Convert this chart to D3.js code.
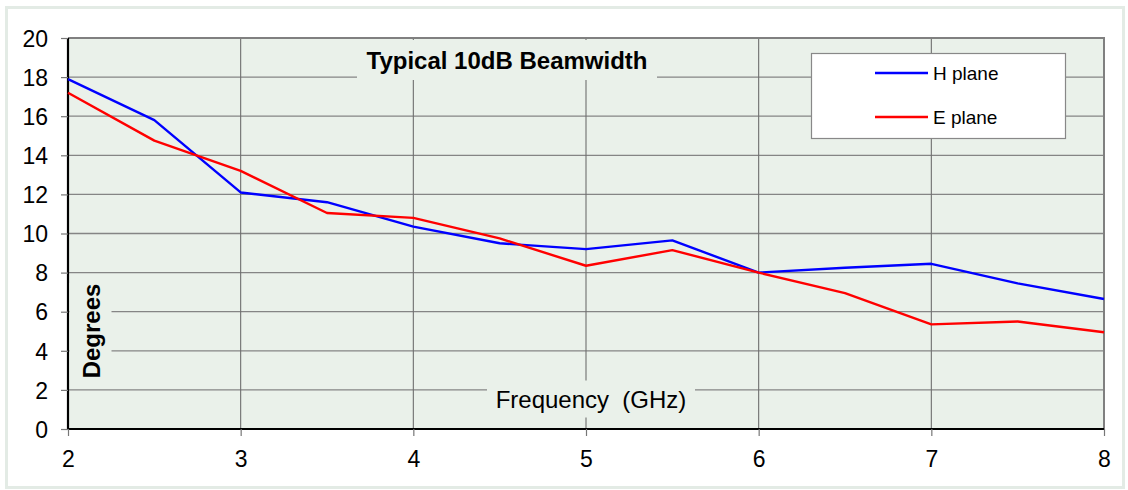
<!DOCTYPE html>
<html>
<head>
<meta charset="utf-8">
<script src="https://cdn.jsdelivr.net/npm/d3@7"></script>
<style>
  body { margin: 0; background: #fff; }
  svg text { font-family: "Liberation Sans", Arial, sans-serif; fill: #000; white-space: pre; }
</style>
</head>
<body>
<div id="chart"></div>
<script>
// frequency in GHz
const freqs = [2, 2.5, 3, 3.5, 4, 4.5, 5, 5.5, 6, 6.5, 7, 7.5, 8];
const hPlane = [17.9, 15.8, 12.1, 11.6, 10.35, 9.5, 9.2, 9.65, 8.0, 8.25, 8.45, 7.45, 6.65];
const ePlane = [17.2, 14.75, 13.2, 11.05, 10.8, 9.75, 8.35, 9.15, 8.0, 6.95, 5.35, 5.5, 4.95];
const xTicks = [2, 3, 4, 5, 6, 7, 8];
const yTicks = [0, 2, 4, 6, 8, 10, 12, 14, 16, 18, 20];
const seriesNames = ["H plane", "E plane"];
const seriesColors = ["#0000ff", "#ff0000"];

const width = 1128, height = 490;
const margin = { top: 38, right: 24, bottom: 61, left: 68 };
const plotBg = "#eaf1ea";

const svg = d3.select("#chart").append("svg")
  .attr("width", width)
  .attr("height", height);

// outer frame
svg.append("rect")
  .attr("x", 6.5).attr("y", 7.5)
  .attr("width", 1117).attr("height", 480)
  .attr("fill", "#fff")
  .attr("stroke", "#e3ebe5")
  .attr("stroke-width", 3);

const x = d3.scaleLinear().domain([2, 8]).range([margin.left, width - margin.right]);
const y = d3.scaleLinear().domain([0, 20]).range([height - margin.bottom, margin.top]);

const g = svg.append("g");

g.append("rect")
  .attr("x", x(2)).attr("y", y(20))
  .attr("width", x(8) - x(2)).attr("height", y(0) - y(20))
  .attr("fill", plotBg);

// grid
g.append("g")
  .attr("stroke", "#858585")
  .attr("stroke-width", 1.3)
  .selectAll("line")
  .data(yTicks.slice(1, -1))
  .join("line")
    .attr("x1", x(2)).attr("x2", x(8))
    .attr("y1", d => y(d)).attr("y2", d => y(d));

g.append("g")
  .attr("stroke", "#6e6e6e")
  .attr("stroke-width", 1.1)
  .selectAll("line")
  .data(xTicks.slice(1, -1))
  .join("line")
    .attr("x1", d => x(d)).attr("x2", d => x(d))
    .attr("y1", y(0)).attr("y2", y(20));

// top and right border
g.append("path")
  .attr("d", `M${x(2)},${y(20)}H${x(8)}V${y(0)}`)
  .attr("fill", "none")
  .attr("stroke", "#808080")
  .attr("stroke-width", 2);

// axes
const xAxis = g.append("g")
  .attr("transform", `translate(0,${y(0)})`)
  .call(d3.axisBottom(x).tickValues(xTicks).tickFormat(d3.format("d")).tickSize(7).tickPadding(14));
const yAxis = g.append("g")
  .attr("transform", `translate(${x(2)},0)`)
  .call(d3.axisLeft(y).tickValues(yTicks).tickSize(7).tickPadding(13));

[xAxis, yAxis].forEach(a => {
  a.select(".domain").attr("stroke", "#000").attr("stroke-width", 2.2);
  a.selectAll(".tick line").attr("stroke", "#777").attr("stroke-width", 1.2);
  a.selectAll(".tick text").style("font-size", "23px").attr("fill", "#000");
});
yAxis.select(".domain").attr("d", `M${0},${y(0)}V${y(20)}`);
xAxis.select(".domain").attr("d", `M${x(2)},0H${x(8)}`);
xAxis.selectAll(".tick text").attr("dy", "0.72em");
yAxis.selectAll(".tick text").attr("dy", "0.36em");

// lines
const series = [hPlane, ePlane];
const line = d3.line().x((d, i) => x(freqs[i])).y(d => y(d));
g.append("g")
  .selectAll("path")
  .data(series)
  .join("path")
    .attr("d", d => line(d))
    .attr("fill", "none")
    .attr("stroke", (d, i) => seriesColors[i])
    .attr("stroke-width", 2.4)
    .attr("stroke-linejoin", "round");

// label boxes with plot bg
const labelBox = (cx, cy, w, h) => {
  g.append("rect")
    .attr("x", cx - w / 2).attr("y", cy - h / 2)
    .attr("width", w).attr("height", h)
    .attr("fill", plotBg);
};

// title
labelBox(507, 60, 300, 40);
g.append("text")
  .attr("x", 507).attr("y", 69)
  .attr("text-anchor", "middle")
  .style("font-size", "24px")
  .style("font-weight", "bold")
  .text("Typical 10dB Beamwidth");

// x title
labelBox(591, 399, 208, 37);
g.append("text")
  .attr("x", 591).attr("y", 408)
  .attr("text-anchor", "middle")
  .style("font-size", "24px")
  .text("Frequency  (GHz)");

// y title
g.append("rect")
  .attr("x", x(2) + 1.5).attr("y", 283)
  .attr("width", 42).attr("height", 97)
  .attr("fill", plotBg);
g.append("text")
  .attr("transform", `translate(100,331) rotate(-90)`)
  .attr("text-anchor", "middle")
  .style("font-size", "24px")
  .style("font-weight", "bold")
  .text("Degrees");

// legend
const legend = g.append("g").attr("transform", "translate(811,53)");
legend.append("rect")
  .attr("x", 0.5).attr("y", 0.5)
  .attr("width", 254).attr("height", 85)
  .attr("fill", "#fff")
  .attr("stroke", "#888")
  .attr("stroke-width", 1.2);
const items = legend.selectAll("g.item")
  .data(seriesNames)
  .join("g")
    .attr("class", "item")
    .attr("transform", (d, i) => `translate(0,${20 + i * 44})`);
items.append("line")
  .attr("x1", 64).attr("x2", 117)
  .attr("stroke", (d, i) => seriesColors[i])
  .attr("stroke-width", 2.4);
items.append("text")
  .attr("x", 122).attr("y", 0)
  .attr("dy", "0.36em")
  .style("font-size", "19px")
  .text(d => d);
</script>
</body>
</html>
